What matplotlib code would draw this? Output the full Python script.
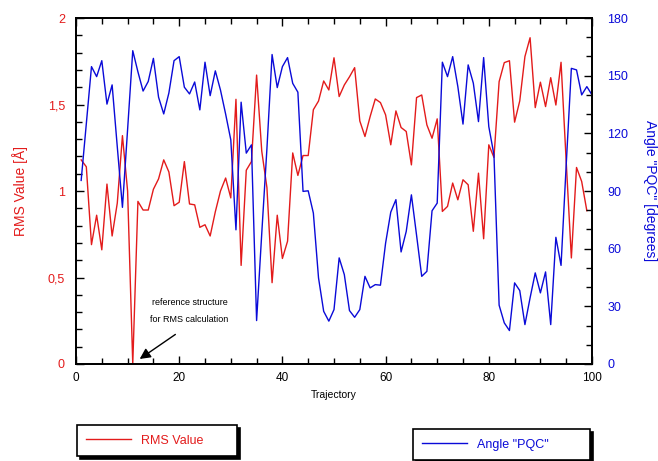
import numpy as np
import matplotlib.pyplot as plt
from matplotlib.ticker import MultipleLocator, FuncFormatter

plt.rcParams['font.family'] = ['Liberation Sans', 'DejaVu Sans']

# RMS values, trajectories 1..99
rms = [1.18, 1.14, 0.69, 0.86, 0.66, 1.04, 0.74, 0.93, 1.32, 1.00,
       0.00, 0.94, 0.89, 0.89, 1.01, 1.07, 1.18, 1.11, 0.915, 0.935,
       1.17, 0.925, 0.92, 0.79, 0.805, 0.74, 0.88, 1.00, 1.075, 0.96,
       1.53, 0.57, 1.12, 1.17, 1.67, 1.23, 1.02, 0.47, 0.86, 0.61,
       0.71, 1.22, 1.09, 1.205, 1.205, 1.47, 1.52, 1.636, 1.584, 1.77,
       1.546, 1.613, 1.66, 1.713, 1.405, 1.315, 1.43, 1.532, 1.511, 1.44,
       1.267, 1.463, 1.367, 1.344, 1.151, 1.54, 1.555, 1.382, 1.305, 1.417,
       0.882, 0.911, 1.046, 0.949, 1.065, 1.036, 0.767, 1.103, 0.724, 1.267,
       1.194, 1.632, 1.742, 1.753, 1.398, 1.521, 1.777, 1.886, 1.482, 1.629,
       1.488, 1.655, 1.497, 1.744, 1.17, 0.613, 1.136, 1.055, 0.886]
# angle PQC, trajectories 1..100
angle = [95.5, 125, 154.7, 149.5, 157.8, 135.2, 145.2, 113, 81.5, 122,
         163, 152, 142, 147, 159, 138.8, 130.1, 141, 157.8, 159.9,
         144, 140.5, 146.7, 132.2, 157, 139.6, 152.5, 142.5, 130, 116.6,
         69.8, 136.2, 109.7, 114, 22.6, 68, 112, 161, 143.8, 154.7,
         159.4, 146, 141.4, 89.8, 90.1, 78.5, 44.8, 27.4, 22.3, 28.3,
         55.2, 46.5, 27.8, 24.3, 28.3, 45.6, 39.6, 41.3, 41, 62.9,
         79, 85.5, 58.3, 69, 88, 67, 45.6, 48.2, 79.7, 83.7,
         157, 149.5, 159.9, 144.3, 124.8, 155.6, 146.1, 126.1, 159.4, 123.5,
         108.8, 30.6, 21.4, 17.4, 42.2, 38.2, 20.5, 34.4, 47.4, 37,
         47.9, 20.5, 65.9, 51.3, 103.6, 153.8, 153, 140, 144.3, 140]
traj_rms = np.arange(1, len(rms) + 1)
traj_ang = np.arange(1, len(angle) + 1)

red = '#e31b1b'
blue = '#0a0ad8'

fig = plt.figure(figsize=(6.58, 4.61), dpi=100)
ax = fig.add_axes([76/658, 1-364/461, (592-76)/658, (364-18)/461])
ax2 = ax.twinx()

l1, = ax.plot(traj_rms, rms, color=red, lw=1.0)
l2, = ax2.plot(traj_ang, angle, color=blue, lw=1.0)

ax.set_xlim(0, 100)
ax.set_ylim(0, 2)
ax2.set_ylim(0, 180)

def comma(v, pos):
    s = ('%g' % v).replace('.', ',')
    return s

ax.xaxis.set_major_locator(MultipleLocator(20))
ax.xaxis.set_minor_locator(MultipleLocator(5))
ax.yaxis.set_major_locator(MultipleLocator(0.5))
ax.yaxis.set_minor_locator(MultipleLocator(0.1))
ax.yaxis.set_major_formatter(FuncFormatter(comma))
ax2.yaxis.set_major_locator(MultipleLocator(30))
ax2.yaxis.set_minor_locator(MultipleLocator(10))

ax.tick_params(axis='x', which='both', direction='in', top=True, labelsize=8.5, pad=6)
ax.tick_params(axis='y', which='both', direction='in', labelsize=9, labelcolor=red, pad=8)
ax2.tick_params(axis='y', which='both', direction='in', labelsize=9, labelcolor=blue, pad=11)
for a in (ax, ax2):
    a.tick_params(which='major', length=6, width=1)
    a.tick_params(which='minor', length=4, width=1)
    for sp in a.spines.values():
        sp.set_linewidth(1.3)

ax.set_xlabel('Trajectory', fontsize=7.5, labelpad=4)
ax.set_ylabel('RMS Value [Å]', color=red, fontsize=10, labelpad=14)
ax2.set_ylabel('Angle "PQC" [degrees]', color=blue, fontsize=10, rotation=270, labelpad=21)

ax.annotate('', xy=(11.9, 0.02), xytext=(19.7, 0.18),
            arrowprops=dict(arrowstyle='-|>', color='black', lw=1, mutation_scale=16))
ax.text(22, 0.355, 'reference structure', fontsize=6.5, ha='center', va='center')
ax.text(22, 0.255, 'for RMS calculation', fontsize=6.5, ha='center', va='center')

shadow = {'facecolor': 'black', 'edgecolor': 'black', 'alpha': 1}
leg1 = fig.legend([l1], ['RMS Value'], loc='lower left', mode='expand',
                  bbox_to_anchor=(77/658, 1-456/461, 160/658, 34/461),
                  fontsize=9, labelcolor=red, fancybox=False, shadow=shadow,
                  edgecolor='black', framealpha=1, handlelength=3.6,
                  borderpad=0.75, handletextpad=0.8, borderaxespad=0)
leg1.get_frame().set_linewidth(1.2)
leg2 = fig.legend([l2], ['Angle "PQC"'], loc='lower left', mode='expand',
                  bbox_to_anchor=(413/658, 1-460/461, 177/658, 33/461),
                  fontsize=9, labelcolor=blue, fancybox=False, shadow=shadow,
                  edgecolor='black', framealpha=1, handlelength=3.6,
                  borderpad=0.75, handletextpad=0.8, borderaxespad=0)
leg2.get_frame().set_linewidth(1.2)

fig.savefig('out.png', dpi=100)
